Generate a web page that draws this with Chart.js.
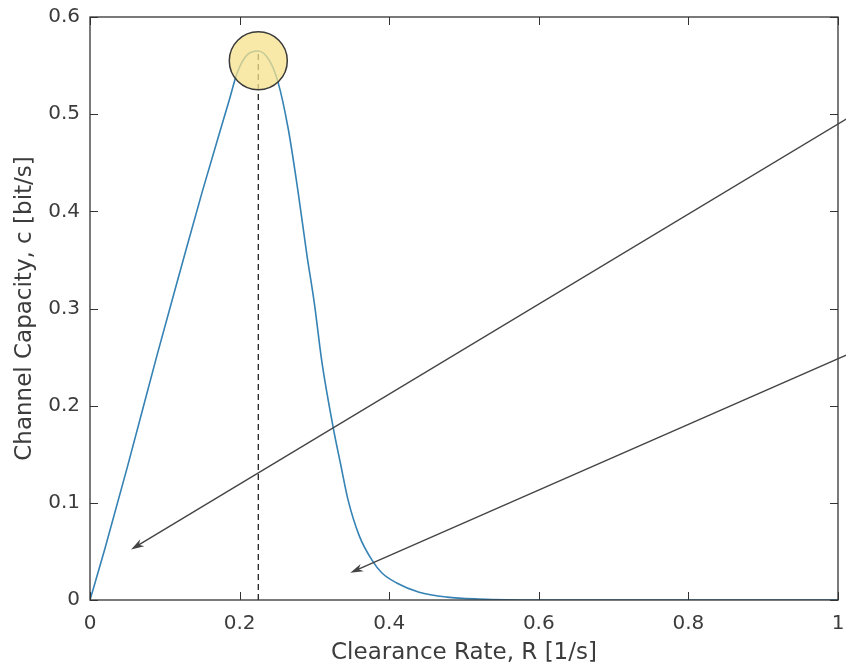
<!DOCTYPE html>
<html>
<head>
<meta charset="utf-8">
<script src="https://cdn.jsdelivr.net/npm/chart.js@4.4.1/dist/chart.umd.min.js"></script>
<style>
  html, body { margin: 0; padding: 0; background: #fff; }
  #wrap { width: 846px; height: 669px; position: relative; }
</style>
</head>
<body>
<div id="wrap"><canvas id="capacityChart"></canvas></div>
<script>
// clearance rate R [1/s] and channel capacity c [bit/s]
const rateValues = [0, 0.02, 0.05, 0.09, 0.12, 0.15, 0.186, 0.197, 0.21, 0.225, 0.24, 0.251, 0.265, 0.278, 0.29, 0.3, 0.31, 0.325, 0.335, 0.345, 0.36, 0.377, 0.39, 0.41, 0.44, 0.477, 0.52, 0.6, 0.8, 1.0];
const capacityValues = [0, 0.053, 0.137, 0.253, 0.337, 0.42, 0.514, 0.543, 0.561, 0.565, 0.555, 0.534, 0.485, 0.421, 0.355, 0.305, 0.245, 0.178, 0.14, 0.103, 0.066, 0.041, 0.028, 0.0175, 0.008, 0.003, 0.001, 0, 0, 0];

// optimum marker
const peakRate = 0.225;
const peakCapacity = 0.565;
const markerCapacity = 0.555;

// annotation arrows [R, c] start -> end
const arrowStarts = [[1.011, 0.495], [1.011, 0.252]];
const arrowEnds = [[0.055, 0.052], [0.348, 0.028]];

const xTicks = [0, 0.2, 0.4, 0.6, 0.8, 1];
const yTicks = [0, 0.1, 0.2, 0.3, 0.4, 0.5, 0.6];

const textColor = '#3c3c3c';
const axisColor = '#333333';

const curvePoints = rateValues.map(function (r, i) { return { x: r, y: capacityValues[i] }; });

const frameAndArrows = {
    id: 'frameAndArrows',
    afterDraw: function (chart) {
        const ctx = chart.ctx;
        const area = chart.chartArea;
        const xs = chart.scales.x;
        const ys = chart.scales.y;
        const tick = 8;

        ctx.save();
        ctx.strokeStyle = axisColor;
        ctx.lineWidth = 1.3;
        ctx.strokeRect(area.left, area.top, area.right - area.left, area.bottom - area.top);

        ctx.lineWidth = 1;
        ctx.beginPath();
        xTicks.forEach(function (v) {
            const px = Math.round(xs.getPixelForValue(v)) + 0.5;
            ctx.moveTo(px, area.bottom);
            ctx.lineTo(px, area.bottom - tick);
            ctx.moveTo(px, area.top);
            ctx.lineTo(px, area.top + tick);
        });
        yTicks.forEach(function (v) {
            const py = Math.round(ys.getPixelForValue(v)) + 0.5;
            ctx.moveTo(area.left, py);
            ctx.lineTo(area.left + tick, py);
            ctx.moveTo(area.right, py);
            ctx.lineTo(area.right - tick, py);
        });
        ctx.stroke();

        // arrows
        ctx.strokeStyle = '#444444';
        ctx.fillStyle = '#444444';
        ctx.lineWidth = 1.4;
        arrowStarts.forEach(function (s, i) {
            const e = arrowEnds[i];
            const x0 = xs.getPixelForValue(s[0]);
            const y0 = ys.getPixelForValue(s[1]);
            const x1 = xs.getPixelForValue(e[0]);
            const y1 = ys.getPixelForValue(e[1]);
            const ang = Math.atan2(y1 - y0, x1 - x0);
            const len = 13;
            const half = 4;
            const bx = x1 - Math.cos(ang) * len;
            const by = y1 - Math.sin(ang) * len;
            ctx.beginPath();
            ctx.moveTo(x0, y0);
            ctx.lineTo(x1 - Math.cos(ang) * 4, y1 - Math.sin(ang) * 4);
            ctx.stroke();
            ctx.beginPath();
            ctx.moveTo(x1, y1);
            ctx.lineTo(bx + Math.sin(ang) * half, by - Math.cos(ang) * half);
            ctx.lineTo(x1 - Math.cos(ang) * len * 0.7, y1 - Math.sin(ang) * len * 0.7);
            ctx.lineTo(bx - Math.sin(ang) * half, by + Math.cos(ang) * half);
            ctx.closePath();
            ctx.fill();
        });
        ctx.restore();
    }
};

document.addEventListener('DOMContentLoaded', function () {
    const ctx = document.getElementById('capacityChart').getContext('2d');

    new Chart(ctx, {
        type: 'line',
        data: {
            datasets: [{
                label: 'marker',
                data: [{ x: peakRate, y: markerCapacity }],
                showLine: false,
                pointRadius: 29,
                pointBackgroundColor: 'rgba(247, 226, 140, 0.75)',
                pointBorderColor: '#3a3a3a',
                pointBorderWidth: 1.5,
                order: 0,
                clip: false
            }, {
                label: 'capacity',
                data: curvePoints,
                borderColor: '#3582b4',
                borderWidth: 1.6,
                pointRadius: 0,
                cubicInterpolationMode: 'monotone',
                fill: false,
                order: 1
            }, {
                label: 'optimum',
                data: [{ x: peakRate, y: 0 }, { x: peakRate, y: peakCapacity }],
                borderColor: '#222222',
                borderWidth: 1.3,
                borderDash: [6, 4],
                pointRadius: 0,
                fill: false,
                order: 2
            }]
        },
        options: {
            responsive: true,
            maintainAspectRatio: false,
            animation: false,
            events: [],
            layout: { autoPadding: false, padding: { left: 0, top: 17, right: 8, bottom: 0 } },
            plugins: {
                legend: { display: false },
                tooltip: { enabled: false }
            },
            scales: {
                x: {
                    type: 'linear',
                    min: 0,
                    max: 1,
                    grid: { display: false, drawTicks: false },
                    border: { display: false },
                    afterBuildTicks: function (scale) {
                        scale.ticks = xTicks.map(function (v) { return { value: v }; });
                    },
                    afterFit: function (scale) {
                        scale.height = 69;
                        scale.paddingLeft = 0;
                        scale.paddingRight = 0;
                    },
                    ticks: {
                        padding: 12,
                        color: textColor,
                        maxRotation: 0,
                        font: { family: 'DejaVu Sans', size: 20 },
                        callback: function (v) { return String(v); }
                    },
                    title: {
                        display: true,
                        text: 'Clearance Rate, R [1/s]',
                        color: textColor,
                        font: { family: 'DejaVu Sans', size: 23 },
                        padding: { top: 0, bottom: 2 }
                    }
                },
                y: {
                    type: 'linear',
                    min: 0,
                    max: 0.6,
                    grid: { display: false, drawTicks: false },
                    border: { display: false },
                    afterBuildTicks: function (scale) {
                        scale.ticks = yTicks.map(function (v) { return { value: v }; });
                    },
                    afterFit: function (scale) {
                        scale.width = 90;
                        scale.paddingTop = 0;
                        scale.paddingBottom = 0;
                    },
                    ticks: {
                        padding: 10,
                        color: textColor,
                        font: { family: 'DejaVu Sans', size: 20 },
                        callback: function (v) { return String(v); }
                    },
                    title: {
                        display: true,
                        text: 'Channel Capacity, c [bit/s]',
                        color: textColor,
                        font: { family: 'DejaVu Sans', size: 23 },
                        padding: { top: 11, bottom: 0 }
                    }
                }
            }
        },
        plugins: [frameAndArrows]
    });
});
</script>
</body>
</html>
